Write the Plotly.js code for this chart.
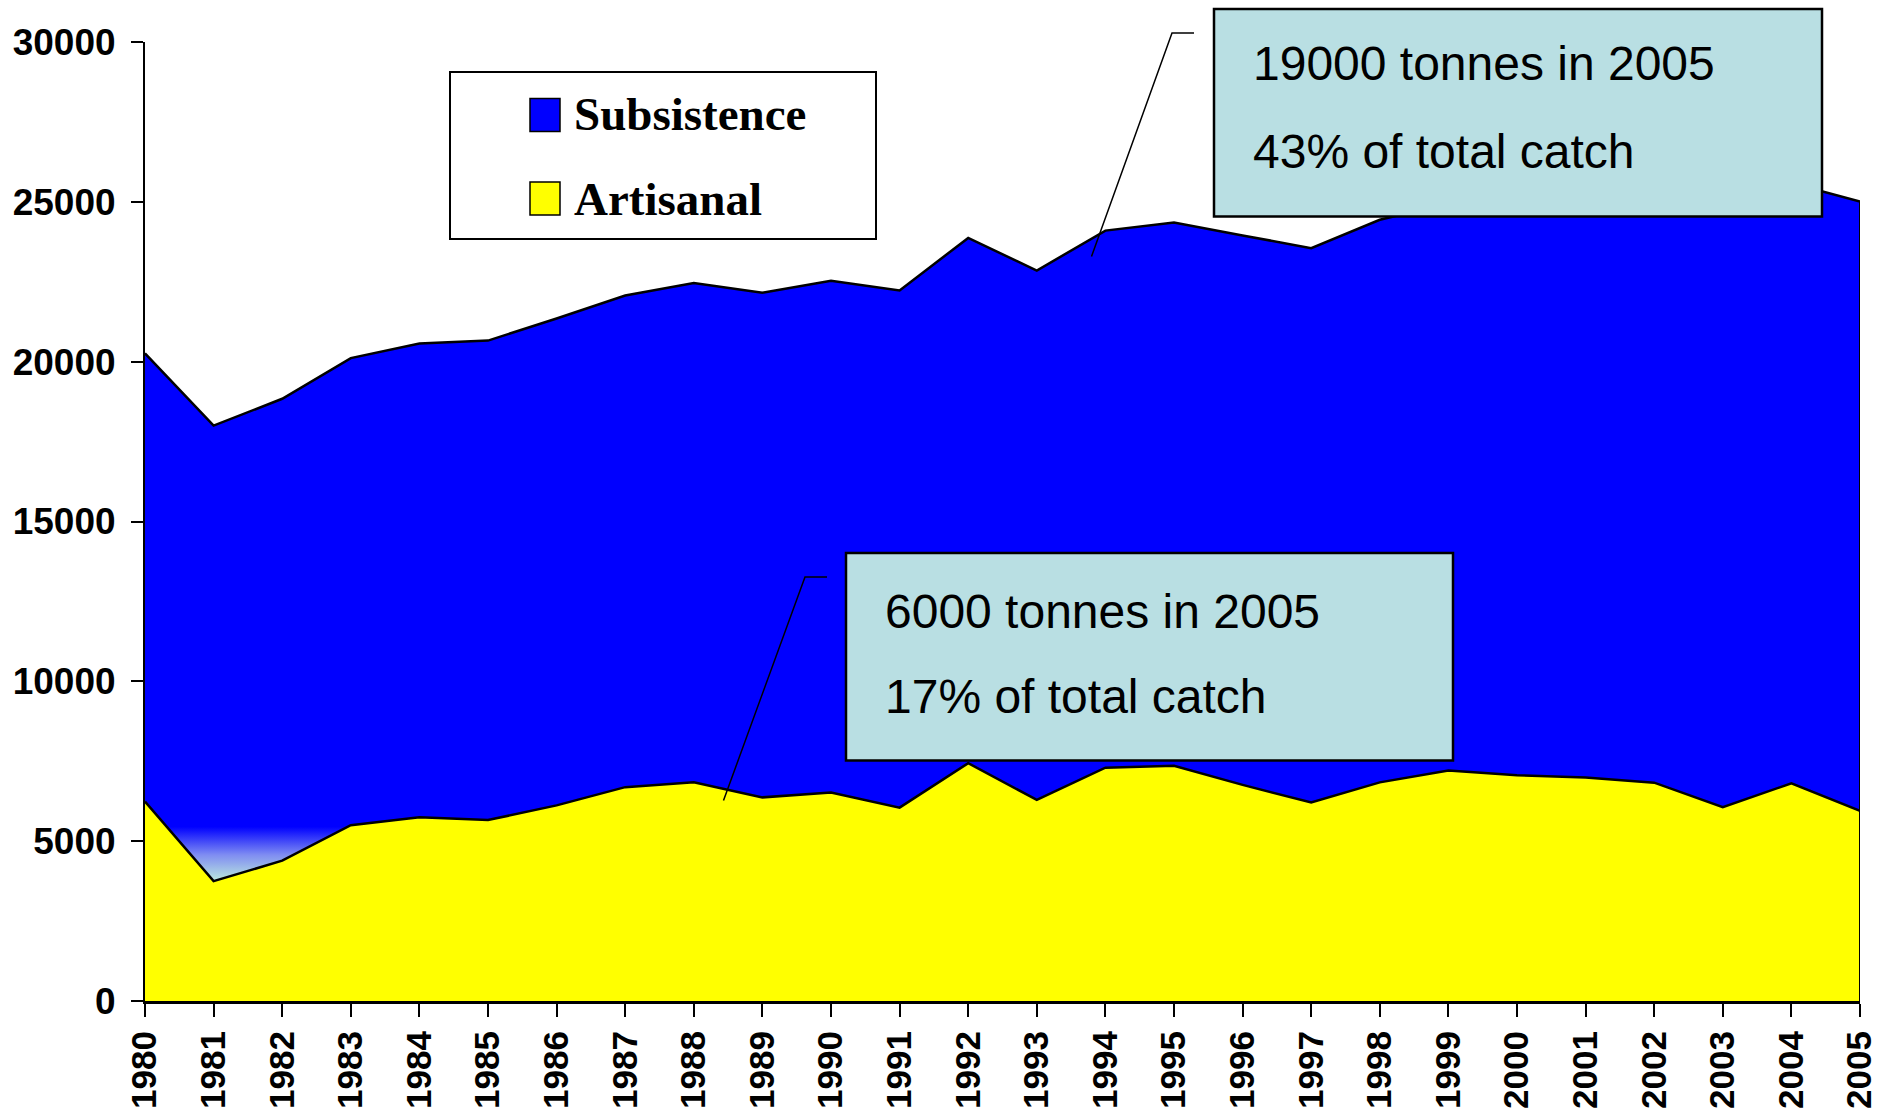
<!DOCTYPE html>
<html>
<head>
<meta charset="utf-8">
<script src="https://cdn.plot.ly/plotly-3.0.1.min.js"></script>
<style>html,body{margin:0;padding:0;background:#fff;}#chart{width:1879px;height:1111px;}</style>
</head>
<body>
<div id="chart"></div>
<script>
// ---- Data (tonnes) ----
const years = [1980,1981,1982,1983,1984,1985,1986,1987,1988,1989,1990,1991,1992,1993,1994,1995,1996,1997,1998,1999,2000,2001,2002,2003,2004,2005];
const yearLabels = years.map(String);
const artisanal = [6240,3750,4390,5500,5750,5660,6120,6690,6840,6370,6520,6050,7440,6290,7300,7360,6760,6210,6840,7210,7060,6990,6830,6060,6810,5950];
const subsistence = [14020,14250,14450,14610,14820,15000,15230,15380,15620,15790,16010,16180,16430,16560,16800,16990,17190,17340,17600,17740,18050,18300,18550,18800,18780,19060];
const yTicks = [0,5000,10000,15000,20000,25000,30000];
const yTickLabels = yTicks.map(String);
const seriesNames = ["Subsistence","Artisanal"];
const noteTop = ["19000 tonnes in 2005","43% of total catch"];
const noteBottom = ["6000 tonnes in 2005","17% of total catch"];

// ---- geometry helpers (pixel -> paper) ----
const W = 1879, H = 1111;
const L = 145, R = 1860, T = 42, B = 1001;
const fx = px => (px - L) / (R - L);
const fy = py => (B - py) / (B - T);

const traces = [
  {
    x: years, y: artisanal, name: seriesNames[1], type: 'scatter', mode: 'lines',
    stackgroup: 'one', fillcolor: '#ffff00',
    line: {color: '#000000', width: 2.5, shape: 'linear'},
    hoverinfo: 'x+y'
  },
  {
    x: years, y: subsistence, name: seriesNames[0], type: 'scatter', mode: 'lines',
    stackgroup: 'one', fillcolor: '#0000ff',
    fillgradient: {type: 'vertical', start: 3700, stop: 5450,
      colorscale: [[0, '#c0f0dc'], [0.5, '#7f8cf2'], [1, '#0000ff']]},
    line: {color: '#000000', width: 2.5, shape: 'linear'},
    hoverinfo: 'x+y'
  }
];

const lastIdx = years.length - 1;
const boxFill = '#b9dfe3';
const shapes = [
  // right edge of stacked area
  {type: 'line', xref: 'x', yref: 'y', x0: years[lastIdx], x1: years[lastIdx], y0: 0,
   y1: artisanal[lastIdx] + subsistence[lastIdx], line: {color: '#000', width: 2}},
  // legend box
  {type: 'rect', xref: 'paper', yref: 'paper', x0: fx(450), x1: fx(876), y0: fy(72), y1: fy(239),
   fillcolor: '#ffffff', line: {color: '#000', width: 2}, layer: 'above'},
  {type: 'rect', xref: 'paper', yref: 'paper', x0: fx(530), x1: fx(560), y0: fy(98.5), y1: fy(131.5),
   fillcolor: '#0000ff', line: {color: '#000', width: 1.5}, layer: 'above'},
  {type: 'rect', xref: 'paper', yref: 'paper', x0: fx(530), x1: fx(560), y0: fy(182), y1: fy(215),
   fillcolor: '#ffff00', line: {color: '#000', width: 1.5}, layer: 'above'},
  // callout top
  {type: 'path', xref: 'paper', yref: 'paper', layer: 'above',
   path: `M ${fx(1194)},${fy(33)} L ${fx(1172)},${fy(33)} L ${fx(1091.5)},${fy(256.5)}`,
   line: {color: '#000', width: 1.5}},
  {type: 'rect', xref: 'paper', yref: 'paper', x0: fx(1214), x1: fx(1822), y0: fy(9), y1: fy(216.5),
   fillcolor: boxFill, line: {color: '#000', width: 2.5}, layer: 'above'},
  // callout bottom
  {type: 'path', xref: 'paper', yref: 'paper', layer: 'above',
   path: `M ${fx(827)},${fy(577)} L ${fx(805)},${fy(577)} L ${fx(723.5)},${fy(800.5)}`,
   line: {color: '#000', width: 1.5}},
  {type: 'rect', xref: 'paper', yref: 'paper', x0: fx(846), x1: fx(1453), y0: fy(553), y1: fy(760.5),
   fillcolor: boxFill, line: {color: '#000', width: 2.5}, layer: 'above'}
];

const noteFont = {family: 'Liberation Sans, Arial, sans-serif', size: 48, color: '#000'};
const legFont = {family: 'Liberation Serif, Times New Roman, serif', size: 47, color: '#000', weight: 'bold'};
const annotations = [
  {xref: 'paper', yref: 'paper', x: fx(1251), y: fy(64), xanchor: 'left', yanchor: 'middle', showarrow: false, text: noteTop[0], font: noteFont},
  {xref: 'paper', yref: 'paper', x: fx(1251), y: fy(152), xanchor: 'left', yanchor: 'middle', showarrow: false, text: noteTop[1], font: noteFont},
  {xref: 'paper', yref: 'paper', x: fx(883), y: fy(611), xanchor: 'left', yanchor: 'middle', showarrow: false, text: noteBottom[0], font: noteFont},
  {xref: 'paper', yref: 'paper', x: fx(883), y: fy(696), xanchor: 'left', yanchor: 'middle', showarrow: false, text: noteBottom[1], font: noteFont},
  {xref: 'paper', yref: 'paper', x: fx(572), y: fy(114), xanchor: 'left', yanchor: 'middle', showarrow: false, text: seriesNames[0], font: legFont},
  {xref: 'paper', yref: 'paper', x: fx(572), y: fy(199), xanchor: 'left', yanchor: 'middle', showarrow: false, text: seriesNames[1], font: legFont}
];

const layout = {
  width: W, height: H,
  margin: {l: L, r: W - R, t: T, b: H - B, pad: 0},
  paper_bgcolor: '#ffffff', plot_bgcolor: '#ffffff',
  showlegend: false,
  xaxis: {
    range: [years[0], years[lastIdx]], tickmode: 'array', tickvals: years, ticktext: yearLabels,
    tickangle: -90, ticks: 'outside', ticklen: 13, tickwidth: 2, tickcolor: '#000',
    ticklabeloverflow: 'allow',
    showline: true, linecolor: '#000', linewidth: 3, showgrid: false, zeroline: false,
    tickfont: {family: 'Liberation Sans, Arial, sans-serif', size: 35, color: '#000', weight: 'bold'}
  },
  yaxis: {
    range: [0, 30000], tickmode: 'array', tickvals: yTicks, ticktext: yTickLabels,
    ticks: 'outside', ticklen: 12, tickwidth: 2, tickcolor: '#000',
    ticklabelstandoff: 8, ticklabeloverflow: 'allow',
    showline: true, linecolor: '#000', linewidth: 2, showgrid: false, zeroline: false,
    tickfont: {family: 'Liberation Sans, Arial, sans-serif', size: 37, color: '#000', weight: 'bold'}
  },
  shapes: shapes,
  annotations: annotations
};

Plotly.newPlot('chart', traces, layout, {displayModeBar: false, staticPlot: true});
</script>
</body>
</html>
